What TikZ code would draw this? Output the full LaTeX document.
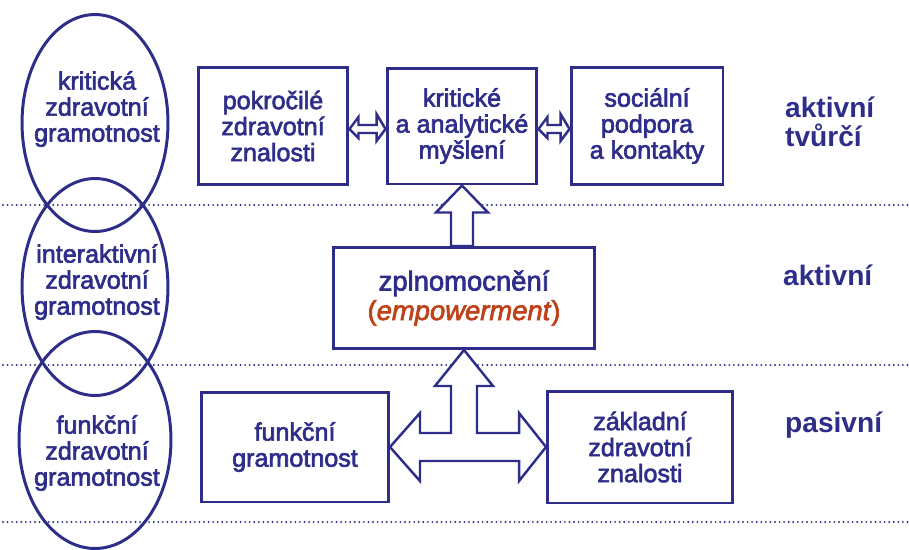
\documentclass[tikz,border=0pt]{standalone}
\usepackage{fontspec}
\setmainfont{Liberation Sans}
\newfontfamily\medfont[FakeBold=2.5]{Liberation Sans}
\usepackage{xcolor}
\usetikzlibrary{calc,shapes.geometric}

\definecolor{navy}{RGB}{46,46,138}
\definecolor{rust}{RGB}{190,66,26}

\begin{document}
\begin{tikzpicture}[x=0.02cm, y=-0.02cm, line join=miter,
  every node/.style={text=navy, font=\medfont\fontsize{14.3}{14.8}\selectfont, align=center},
  box/.style={draw=navy, line width=1.7pt, inner sep=2pt},
  oval/.style={draw=navy, line width=1.7pt, ellipse, minimum width=2.92cm, minimum height=4.34cm},
  level/.style={anchor=west, align=left, font=\bfseries\fontsize{16}{16.5}\selectfont},
  bigarrow/.style={draw=navy, line width=1.4pt, fill=white},
  sep/.style={draw=navy, line width=1.2pt, dash pattern=on 0pt off 2.6pt, line cap=round}]
\useasboundingbox (0,0) rectangle (909,549);

% level separators
\foreach \y in {205,365,522}
  \draw[sep] (3,\y) -- (909,\y);

% ovals on the left
\node[oval] (el1) at (95,123) {};
\node[oval] (el2) at (95,287) {};
\node[oval, minimum width=3.04cm] (el3) at (95,440) {};
\node (crit) at (97,109) {kritická\\zdravotní\\gramotnost};
\node (inter) at (97,282) {interaktivní\\zdravotní\\gramotnost};
\node (func) at (97,453) {funkční\\zdravotní\\gramotnost};

% boxes
\node[box, minimum width=3.0cm, minimum height=2.34cm] (pok) at (273,126) {pokročilé\\zdravotní\\znalosti};
\node[box, minimum width=3.0cm, minimum height=2.32cm] (krit) at (462,126) {kritické\\a analytické\\myšlení};
\node[box, minimum width=3.04cm, minimum height=2.34cm] (soc) at (647,126) {sociální\\podpora\\a kontakty};
\node[box, minimum width=5.22cm, minimum height=2.02cm, font=\medfont\fontsize{15.6}{16.8}\selectfont] (zpl) at (464,298)
  {zplnomocnění\\{\color{rust}(\textit{empowerment})}};
\node[box, minimum width=3.74cm, minimum height=2.2cm] (fun) at (295,447) {funkční\\gramotnost};
\node[box, minimum width=3.7cm, minimum height=2.24cm] (zak) at (640,447) {základní\\zdravotní\\znalosti};

% levels on the right
\node[level] (tvur) at (779,122) {aktivní\\tvůrčí};
\node[level] (akt) at (777,275) {aktivní};
\node[level] (pas) at (779,425) {pasivní};

% small double arrows
\draw[bigarrow] ($(pok.east)+(0,3)$) -- ++(9,-12) -- ++(0,8) -| ($(krit.west)+(-9,-5)$) -- ++(0,-7)
  -- ($(krit.west)+(0,3)$) -- ++(-9,12) -- ++(0,-8) -| ($(pok.east)+(9,12)$) -- cycle;
\draw[bigarrow] ($(krit.east)+(0,3)$) -- ++(9,-12) -- ++(0,8) -| ($(soc.west)+(-9,-5)$) -- ++(0,-7)
  -- ($(soc.west)+(0,3)$) -- ++(-9,12) -- ++(0,-8) -| ($(krit.east)+(9,12)$) -- cycle;

% up arrow
\draw[bigarrow] (krit.south) -- ++(26,27) -- ++(-15,0) -- ($(krit.south |- zpl.north)+(11,0)$) -- ++(-22,0)
  -- ($(krit.south)+(-11,27)$) -- ++(-15,0) -- cycle;

% three-way arrow
\draw[bigarrow] (zpl.south) -- ++(29,36) -- ++(-16,0) |- ($(zak.west)+(-27,-14)$) -- ++(0,-20) -- (zak.west)
  -- ++(-27,34) -- ++(0,-20) -- ($(fun.east)+(30,14)$) -- ++(0,20) -- (fun.east) -- ++(30,-34) -- ++(0,20)
  -| ($(zpl.south)+(-13,36)$) -- ++(-16,0) -- cycle;
\end{tikzpicture}
\end{document}
